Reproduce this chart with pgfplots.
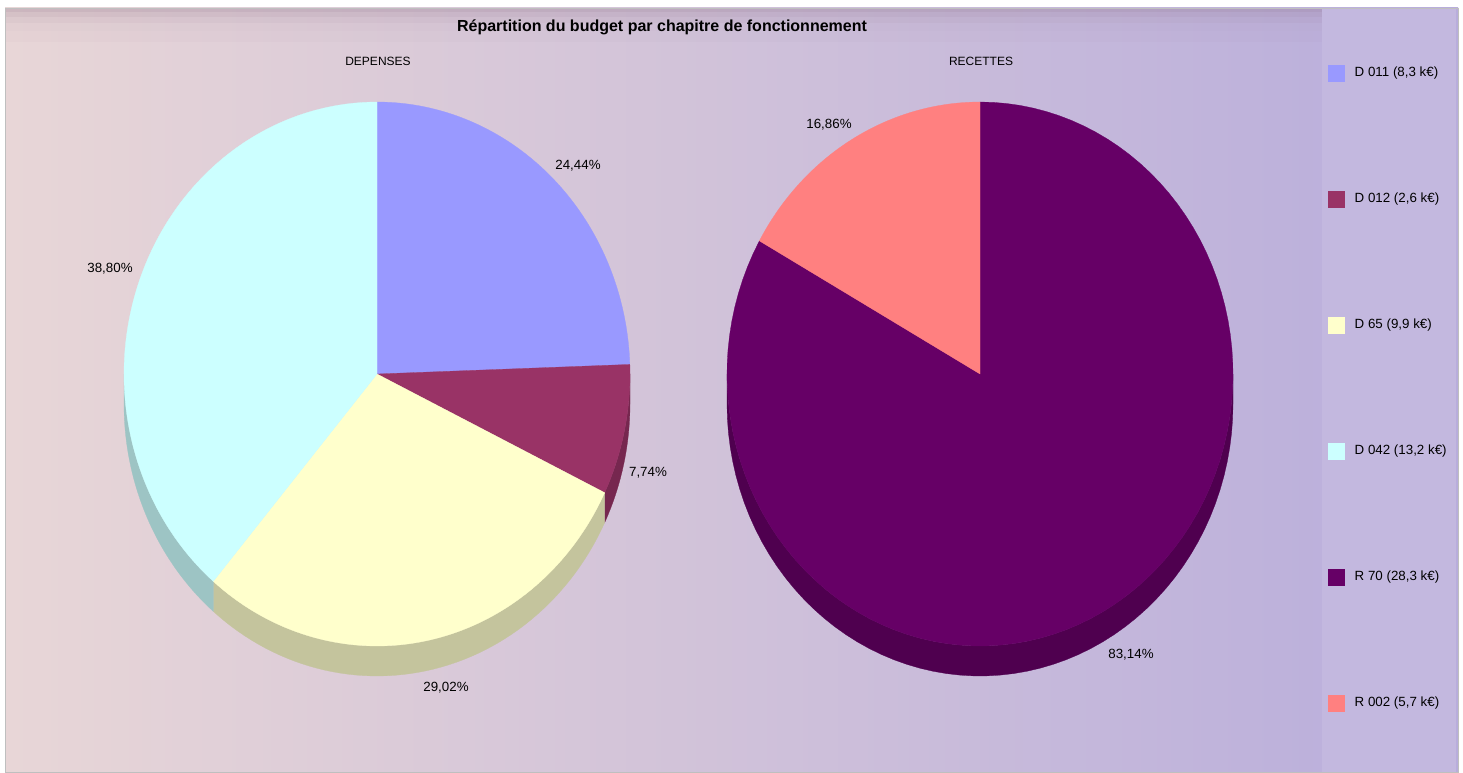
\documentclass[border=0pt]{standalone}
\usepackage{fontspec}
\setmainfont{Liberation Sans}
\usepackage{pgfplots}
\pgfplotsset{compat=1.18}
\usepgfplotslibrary{fillbetween}

\definecolor{cA}{HTML}{9999FF}
\definecolor{cB}{HTML}{993366}
\definecolor{cC}{HTML}{FFFFCC}
\definecolor{cD}{HTML}{CCFFFF}
\definecolor{cE}{HTML}{660066}
\definecolor{cF}{HTML}{FF8080}
\definecolor{bgL}{HTML}{E8D6D7}
\definecolor{bgM}{HTML}{D0BED2}
\definecolor{bgR}{HTML}{B8ADDC}
\definecolor{legbg}{HTML}{C3B8DF}
\definecolor{topband}{HTML}{8C6E86}
\definecolor{txt}{HTML}{1A1A1A}

% shares in percent
\def\dA{24.44}\def\dB{7.74}\def\dC{29.02}\def\dD{38.80}
\def\rA{83.14}\def\rB{16.86}
\pgfmathsetmacro\aA{90-3.6*\dA}
\pgfmathsetmacro\aB{\aA-3.6*\dB}
\pgfmathsetmacro\aC{\aB-3.6*\dC}
\pgfmathsetmacro\aD{\aC-3.6*\dD}
\pgfmathsetmacro\bA{90-3.6*\rA}

% #1 centre x, #2 from, #3 to, #4 colour
\newcommand\sector[4]{%
  \addplot[fill=#4, draw=#4, line width=0.2pt, domain=#2:#3, samples=100]
    ({#1+253*cos(x)},{398+272*sin(x)}) -- (axis cs:#1,398) -- cycle;}
% #1 centre x, #2 from, #3 to, #4 colour, #5 name
\newcommand\side[5]{%
  \addplot[name path=#5t, draw=none, forget plot, domain=#2:#3, samples=60]
    ({#1+253*cos(x)},{398+272*sin(x)});
  \addplot[name path=#5b, draw=none, forget plot, domain=#2:#3, samples=60]
    ({#1+253*cos(x)},{368+272*sin(x)});
  \addplot[fill=#4!77!black, draw=#4!77!black, line width=0.2pt, forget plot]
    fill between[of=#5t and #5b];}

\begin{document}
\begin{tikzpicture}
\begin{axis}[
  scale only axis, width=1097.25pt, height=579pt,
  xmin=0, xmax=1463, ymin=0, ymax=772,
  hide axis, clip=false,
  fill between/on layer=main,
  every node/.style={text=txt},
]
% whole picture frame (keeps the bounding box)
\addplot[draw=none, forget plot] coordinates {(0,0) (1463,772)};
% background
\addplot[draw=none, forget plot, left color=bgL, middle color=bgM, right color=bgR]
  coordinates {(5,0) (1458,0) (1458,764) (5,764)} -- cycle;
\addplot[draw=none, forget plot, fill=topband, fill opacity=0.30]
  coordinates {(5,760) (1322,760) (1322,764) (5,764)} -- cycle;
\addplot[draw=none, forget plot, fill=topband, fill opacity=0.20]
  coordinates {(5,755) (1322,755) (1322,760) (5,760)} -- cycle;
\addplot[draw=none, forget plot, fill=topband, fill opacity=0.12]
  coordinates {(5,749) (1322,749) (1322,755) (5,755)} -- cycle;
\addplot[draw=none, forget plot, fill=topband, fill opacity=0.06]
  coordinates {(5,741) (1322,741) (1322,749) (5,749)} -- cycle;
\addplot[draw=none, forget plot, fill=topband, fill opacity=0.03]
  coordinates {(5,730) (1322,730) (1322,741) (5,741)} -- cycle;
\addplot[draw=none, forget plot, fill=legbg]
  coordinates {(1322,0) (1456,0) (1456,764) (1322,764)} -- cycle;
\addplot[draw=black!25, line width=0.4pt, forget plot]
  coordinates {(5,0) (1458,0) (1458,764) (5,764)} -- cycle;

% DEPENSES: sides then top
\side{377}{\aB}{0}{cB}{sa}
\side{377}{\aC}{\aB}{cC}{sb}
\side{377}{-180}{\aC}{cD}{sc}
\sector{377}{\aA}{90}{cA}
\sector{377}{\aB}{\aA}{cB}
\sector{377}{\aC}{\aB}{cC}
\sector{377}{\aD}{\aC}{cD}

% RECETTES
\side{980}{-180}{0}{cE}{sd}
\sector{980}{\bA}{90}{cE}
\sector{980}{90}{\bA+360}{cF}

% legend squares
\addplot[only marks, mark=square*, mark size=6pt, color=cA] coordinates {(1336,699)};
\addplot[only marks, mark=square*, mark size=6pt, color=cB] coordinates {(1336,573)};
\addplot[only marks, mark=square*, mark size=6pt, color=cC] coordinates {(1336,447)};
\addplot[only marks, mark=square*, mark size=6pt, color=cD] coordinates {(1336,321)};
\addplot[only marks, mark=square*, mark size=6pt, color=cE] coordinates {(1336,195)};
\addplot[only marks, mark=square*, mark size=6pt, color=cF] coordinates {(1336,69)};

\begin{scope}[font=\fontsize{10}{12}\selectfont]
\node[anchor=west] at (axis cs:1350,699) {D 011 (8,3 k€)};
\node[anchor=west] at (axis cs:1350,573) {D 012 (2,6 k€)};
\node[anchor=west] at (axis cs:1350,447) {D 65 (9,9 k€)};
\node[anchor=west] at (axis cs:1350,321) {D 042 (13,2 k€)};
\node[anchor=west] at (axis cs:1350,195) {R 70 (28,3 k€)};
\node[anchor=west] at (axis cs:1350,69) {R 002 (5,7 k€)};

\node at (axis cs:578,606) {24,44\%};
\node at (axis cs:648,299) {7,74\%};
\node at (axis cs:446,84) {29,02\%};
\node at (axis cs:110,503) {38,80\%};
\node at (axis cs:829,647) {16,86\%};
\node at (axis cs:1131,117) {83,14\%};
\end{scope}

\node[font=\fontsize{9}{11}\selectfont] at (axis cs:378,711) {DEPENSES};
\node[font=\fontsize{9}{11}\selectfont] at (axis cs:981,711) {RECETTES};
\node[font=\fontsize{12}{14}\selectfont\bfseries] at (axis cs:662,745)
  {Répartition du budget par chapitre de fonctionnement};
\end{axis}
\end{tikzpicture}
\end{document}
